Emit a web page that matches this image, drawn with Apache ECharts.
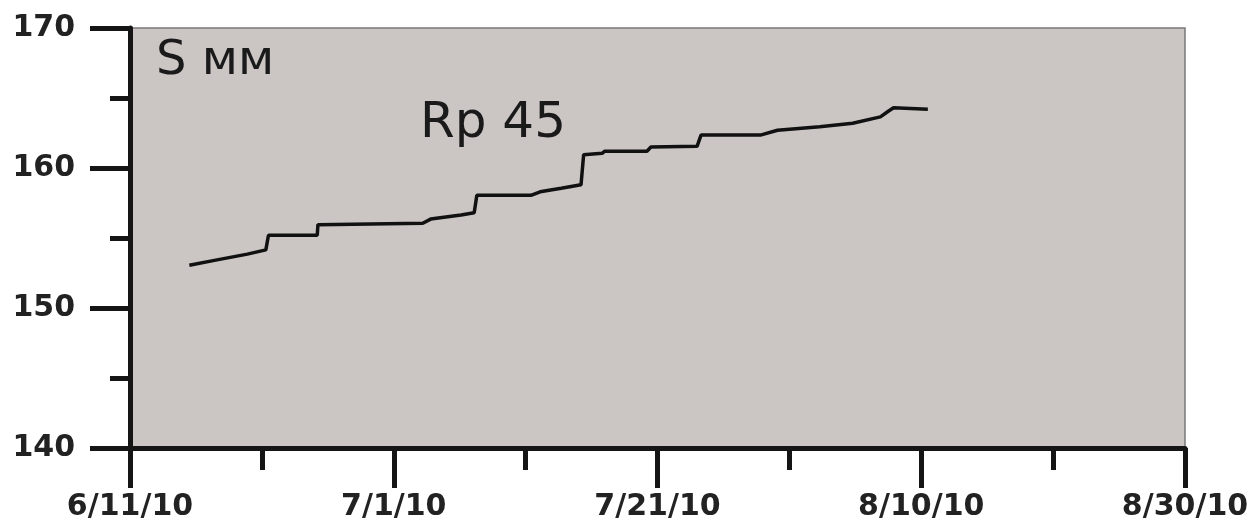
<!DOCTYPE html>
<html>
<head>
<meta charset="utf-8">
<script src="https://cdn.jsdelivr.net/npm/echarts@6/dist/echarts.min.js"></script>
<style>
html,body{margin:0;padding:0;background:#fff;}
#chart{width:1258px;height:524px;}
</style>
</head>
<body>
<div id="chart"></div>
<script>
// x values: days since 6/11/10
const daysSinceStart = [4.5, 6.4, 8.9, 10.3, 10.5, 14.2, 14.25, 22.2, 22.8, 25.1, 26.1, 26.3, 30.4, 31.1, 32.7, 34.2, 34.4, 35.8, 36.0, 39.2, 39.5, 43.0, 43.3, 47.8, 49.1, 52.3, 54.8, 56.9, 57.5, 57.9, 60.5];
const sValues = [153.05, 153.4, 153.85, 154.15, 155.2, 155.2, 155.95, 156.05, 156.35, 156.65, 156.8, 158.05, 158.05, 158.3, 158.55, 158.8, 160.95, 161.05, 161.2, 161.2, 161.5, 161.55, 162.35, 162.35, 162.7, 162.95, 163.2, 163.65, 164.05, 164.3, 164.2];
const xTickLabels = ['6/11/10', '7/1/10', '7/21/10', '8/10/10', '8/30/10'];
const yTickLabels = ['140', '150', '160', '170'];
const axisTitle = 'S мм';
const seriesLabel = 'Rp 45';

const chart = echarts.init(document.getElementById('chart'), null, {renderer: 'canvas'});
const axisColor = '#151515';
chart.setOption({
  animation: false,
  backgroundColor: '#ffffff',
  grid: {
    left: 130, right: 73, top: 28, bottom: 76,
    show: true, backgroundColor: '#cbc6c4', borderColor: '#7a7a7a', borderWidth: 1.5
  },
  xAxis: {
    type: 'value', min: 0, max: 80, interval: 20,
    axisLine: {show: true, onZero: false, lineStyle: {color: axisColor, width: 5}},
    axisTick: {show: true, length: 40, lineStyle: {color: axisColor, width: 5}},
    minorTick: {show: true, splitNumber: 2, length: 22, lineStyle: {color: axisColor, width: 5}},
    splitLine: {show: false},
    axisLabel: {
      margin: 44, color: '#222', fontFamily: 'DejaVu Sans', fontWeight: 'bold', fontSize: 30,
      formatter: v => xTickLabels[Math.round(v / 20)] || ''
    }
  },
  yAxis: {
    type: 'value', min: 140, max: 170, interval: 10,
    axisLine: {show: true, onZero: false, lineStyle: {color: axisColor, width: 5}},
    axisTick: {show: true, length: 40, lineStyle: {color: axisColor, width: 5}},
    minorTick: {show: true, splitNumber: 2, length: 20, lineStyle: {color: axisColor, width: 5}},
    splitLine: {show: false},
    axisLabel: {
      margin: 55, color: '#222', fontFamily: 'DejaVu Sans', fontWeight: 'bold', fontSize: 30,
      formatter: v => yTickLabels[Math.round((v - 140) / 10)] || ''
    }
  },
  graphic: [
    {type: 'text', left: 156, top: 38, style: {text: axisTitle, fontFamily: 'DejaVu Sans', fontSize: 48, fill: '#1a1a1a'}},
    {type: 'text', left: 420, top: 99, style: {text: seriesLabel, fontFamily: 'DejaVu Sans', fontSize: 50, fill: '#1a1a1a'}}
  ],
  series: [{
    type: 'line',
    data: daysSinceStart.map((d, i) => [d, sValues[i]]),
    showSymbol: false,
    lineStyle: {color: '#111', width: 3.5},
    z: 3
  }]
});
</script>
</body>
</html>
